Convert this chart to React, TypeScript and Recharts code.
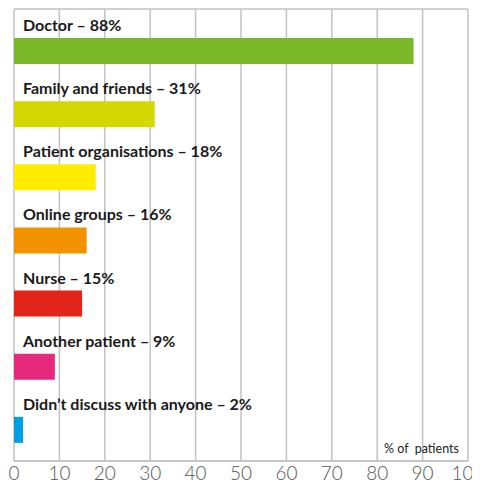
import { BarChart, Bar, XAxis, YAxis, CartesianGrid, Cell, LabelList } from "recharts";

const categories = [
  "Doctor",
  "Family and friends",
  "Patient organisations",
  "Online groups",
  "Nurse",
  "Another patient",
  "Didn’t discuss with anyone",
];
const percentages = [88, 31, 18, 16, 15, 9, 2];
const barColors = ["#7ab82a", "#d4d800", "#ffec00", "#f39200", "#e3241b", "#e6297d", "#009fe3"];
const xTicks = [0, 10, 20, 30, 40, 50, 60, 70, 80, 90, 100];

const data = categories.map((name, i) => ({ name, value: percentages[i] }));

function BarTitle(props: any) {
  const { x, y, index } = props;
  return (
    <text
      x={x + 9}
      y={y - 7}
      fontFamily="Lato"
      fontWeight={700}
      fontSize={16}
      fill="#1a1a1a"
    >
      {`${categories[index]} – ${percentages[index]}%`}
    </text>
  );
}

export default function App() {
  return (
    <div style={{ position: "relative", width: 472, height: 477 }}>
      <BarChart
        width={472}
        height={477}
        data={data}
        layout="vertical"
        margin={{ top: 1, right: 12, left: 6, bottom: 0 }}
        barSize={26}
      >
        <CartesianGrid
          stroke="#c2c2c2"
          strokeWidth={1.5}
          horizontalCoordinatesGenerator={({ offset }: any) => [offset.top, offset.top + offset.height]}
        />
        <XAxis
          type="number"
          domain={[0, 100]}
          ticks={xTicks}
          interval={0}
          height={24}
          tickMargin={0}
          axisLine={{ stroke: "#c2c2c2", strokeWidth: 1.5 }}
          tickLine={false}
          tick={{ fill: "#555", fontSize: 19, fontFamily: "Lato", fontWeight: 300 }}
        />
        <YAxis type="category" dataKey="name" hide padding={{ top: 10, bottom: 0 }} />
        <Bar dataKey="value" isAnimationActive={false}>
          {data.map((d, i) => (
            <Cell key={d.name} fill={barColors[i]} />
          ))}
          <LabelList dataKey="value" content={<BarTitle />} />
        </Bar>
      </BarChart>
      <div
        style={{
          position: "absolute",
          left: 376,
          top: 433,
          fontFamily: "Lato",
          fontSize: 12.5,
          color: "#222",
          whiteSpace: "pre",
        }}
      >
        {"% of  patients"}
      </div>
    </div>
  );
}
